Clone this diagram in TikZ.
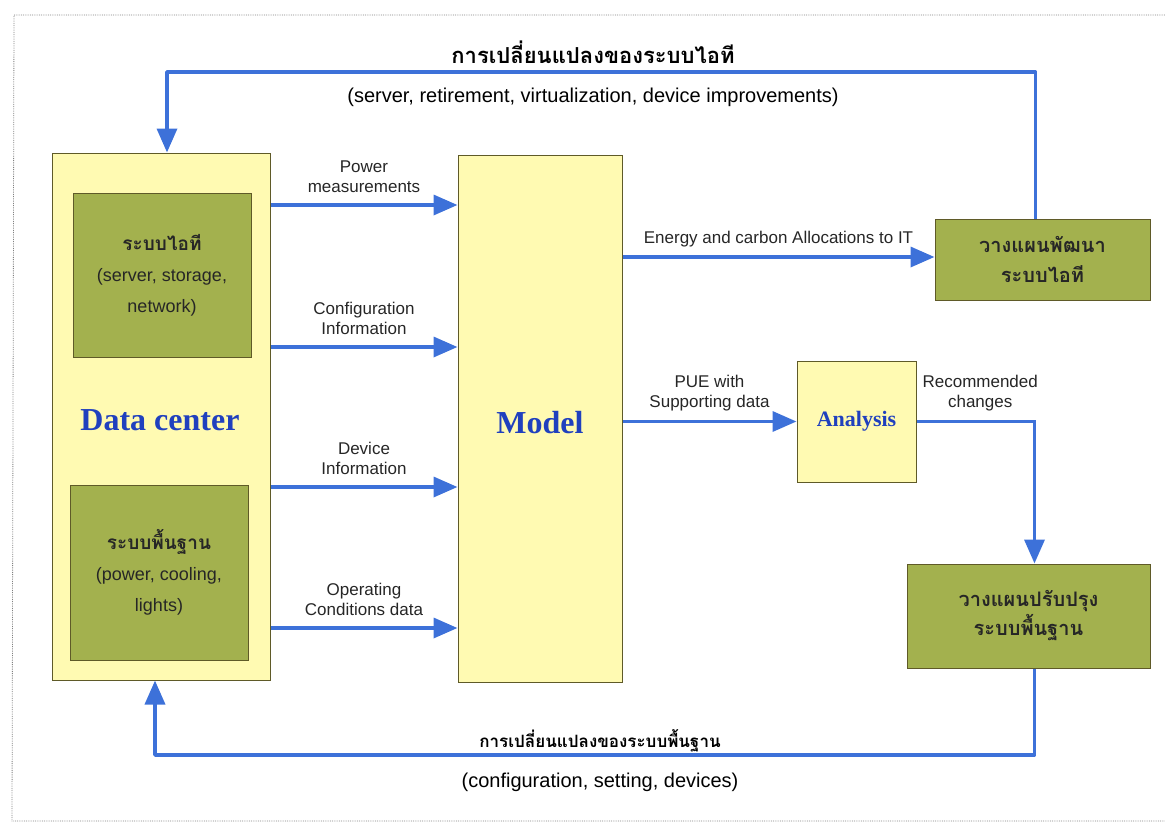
\documentclass[tikz,border=0pt]{standalone}
\usepackage{fontspec}
\setmainfont{Liberation Sans}
\newfontfamily\thaifont[Script=Thai]{Loma}
\newfontfamily\titlefont{Liberation Serif}
\usetikzlibrary{arrows.meta, positioning, calc}

\definecolor{flowblue}{RGB}{61,113,217}
\definecolor{paleyellow}{RGB}{255,250,178}
\definecolor{olivegreen}{RGB}{163,177,78}
\definecolor{olivedark}{RGB}{95,90,40}
\definecolor{titleblue}{RGB}{32,64,190}

\begin{document}
\begin{tikzpicture}[x=1pt, y=-1pt,
    block/.style={rectangle, draw=olivedark, line width=1pt, fill=paleyellow},
    subblock/.style={rectangle, draw=olivedark, line width=1pt, fill=olivegreen, align=center, text=black!85, font=\fontsize{18}{31}\selectfont},
    arrow/.style={-{Triangle[length=24pt,width=20pt]}, draw=flowblue, line width=3.5pt},
    txt/.style={align=center, font=\fontsize{17}{20}\selectfont, text=black!85},
    heading/.style={font=\titlefont\bfseries, text=titleblue}
]
\useasboundingbox (0,0) rectangle (1165,825);
\draw[gray, line width=0.8pt, densely dotted] (1165,15) -- (14,15) -- (12,821) -- (1165,821);

% boxes
\node[block, minimum width=218pt, minimum height=527pt] (dc) at (161,416.5) {};
\node[subblock, minimum width=178pt, minimum height=164pt] (itsys) at (162,275)
    {{\thaifont\bfseries\fontsize{19}{31}\selectfont ระบบไอที}\\(server, storage,\\network)};
\node[subblock, minimum width=178pt, minimum height=175pt] (infra) at (159,572.5)
    {{\thaifont\bfseries\fontsize{19}{31}\selectfont ระบบพื้นฐาน}\\(power, cooling,\\lights)};
\node[heading, font=\titlefont\bfseries\fontsize{32}{36}\selectfont] (dctitle) at (160,420) {Data center};

\node[block, minimum width=164pt, minimum height=527pt] (model) at (540,418.5) {};
\node[heading, font=\titlefont\bfseries\fontsize{32}{36}\selectfont] (modeltitle) at (540,423) {Model};

\node[block, minimum width=119pt, minimum height=121pt,
      font=\titlefont\bfseries\fontsize{22}{24}\selectfont, text=titleblue] (analysis) at (856.5,421.5) {Analysis};

\node[subblock, minimum width=215pt, minimum height=81pt, font=\thaifont\bfseries\fontsize{20}{30}\selectfont] (itplan) at (1042.5,259.5)
    {วางแผนพัฒนา\\ระบบไอที};
\node[subblock, minimum width=243pt, minimum height=104pt, font=\thaifont\bfseries\fontsize{20}{29}\selectfont] (infraplan) at (1028.5,616)
    {วางแผนปรับปรุง\\ระบบพื้นฐาน};

% inputs to the model
\foreach \y/\lbl in {205/{Power\\measurements}, 347/{Configuration\\Information},
                     487/{Device\\Information}, 628/{Operating\\Conditions data}}
  \draw[arrow] (dc.east |- 0,\y) -- node[txt, above=7pt] {\lbl} (model.west |- 0,\y);

% outputs of the model
\draw[arrow] (model.east |- 0,257) -- node[txt, above=5pt] {Energy and carbon Allocations to IT} (itplan.west |- 0,257);
\draw[arrow] (model.east |- analysis) -- node[txt, above=5pt] {PUE with\\Supporting data} (analysis.west);
\draw[arrow] (analysis.east) -| node[txt, pos=0.27, above=5pt] {Recommended\\changes} ([xshift=6pt]infraplan.north);

% feedback loops
\coordinate (topy) at (0,72);
\coordinate (boty) at (0,755);
\draw[arrow, line join=round] ([xshift=-7pt]itplan.north) |- ([xshift=6pt]dc.north |- topy) -- ([xshift=6pt]dc.north);
\draw[arrow, line join=round] ([xshift=6pt]infraplan.south) |- ([xshift=-6pt]dc.south |- boty) -- ([xshift=-6pt]dc.south);

\node[font=\thaifont\bfseries\fontsize{22}{26}\selectfont] (ittitle) at (593,52) {การเปลี่ยนแปลงของระบบไอที};
\node[font=\fontsize{20}{24}\selectfont] (itnote) at (593,97) {(server, retirement, virtualization, device improvements)};
\node[font=\thaifont\bfseries\fontsize{17}{20}\selectfont] (infratitle) at (600,741) {การเปลี่ยนแปลงของระบบพื้นฐาน};
\node[font=\fontsize{20}{24}\selectfont] (infranote) at (600,782) {(configuration, setting, devices)};
\end{tikzpicture}
\end{document}
